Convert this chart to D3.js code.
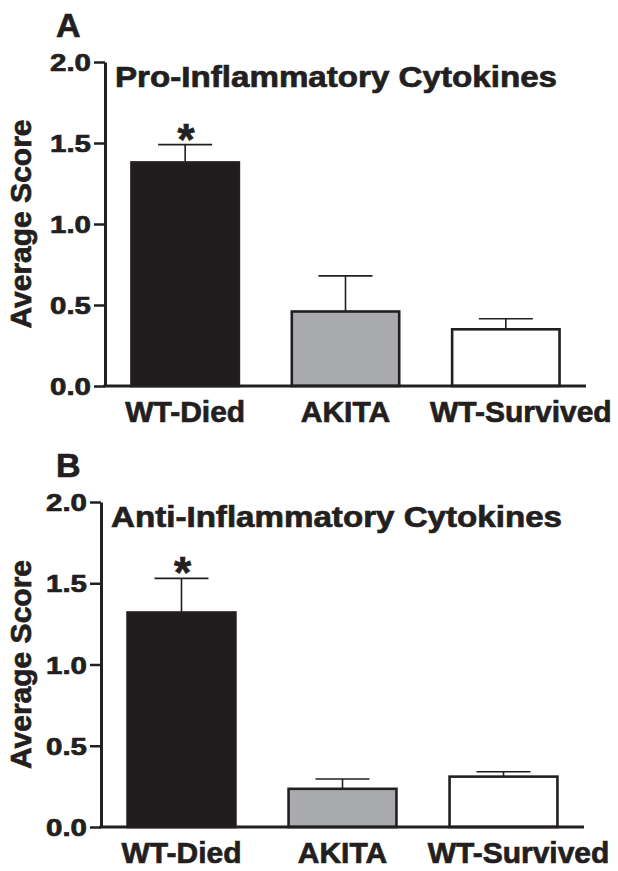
<!DOCTYPE html>
<html>
<head>
<meta charset="utf-8">
<script src="https://cdnjs.cloudflare.com/ajax/libs/d3/7.8.5/d3.min.js"></script>
<style>
  body { margin: 0; background: #fff; }
  svg { display: block; }
  text.bold { stroke: #231f20; stroke-width: 0.7px; paint-order: stroke; }
</style>
</head>
<body>
<svg class="cytoSVG" width="618" height="871"></svg>
<script>
const groups = ['WT-Died', 'AKITA', 'WT-Survived'];
const proMeans = [1.38, 0.46, 0.35];
const proErr = [0.11, 0.22, 0.065];
const antiMeans = [1.32, 0.235, 0.31];
const antiErr = [0.21, 0.06, 0.03];
const significant = [true, false, false];
const yTicks = [0.0, 0.5, 1.0, 1.5, 2.0];
const barFills = ['#1e1c1d', '#a9aaad', '#ffffff'];

const ink = '#231f20';
const font = "'Liberation Sans', Arial, sans-serif";

function drawPanel(svg, opts) {
  const g = svg.append('g').attr('class', 'panel');

  const x = d3.scaleBand()
    .domain(groups)
    .range([opts.left, opts.right])
    .paddingInner(0.33)
    .paddingOuter(0.165);

  const y = d3.scaleLinear()
    .domain([0, 2])
    .range([opts.bottom, opts.top]);

  const rows = groups.map((k, i) => ({
    group: k, mean: opts.means[i], err: opts.errs[i], fill: barFills[i], sig: significant[i]
  }));

  // bars
  g.selectAll('rect.bar')
    .data(rows)
    .enter()
    .append('rect')
    .attr('class', 'bar')
    .attr('x', d => x(d.group))
    .attr('y', d => y(d.mean))
    .attr('width', x.bandwidth())
    .attr('height', d => y(0) - y(d.mean))
    .style('fill', d => d.fill)
    .style('stroke', ink)
    .style('stroke-width', '2.6px');

  // upper error whiskers
  const err = g.selectAll('g.err')
    .data(rows)
    .enter()
    .append('g')
    .attr('class', 'err')
    .style('stroke', ink)
    .style('stroke-width', '1.6px');

  err.append('line')
    .attr('x1', d => x(d.group) + x.bandwidth() / 2)
    .attr('x2', d => x(d.group) + x.bandwidth() / 2)
    .attr('y1', d => y(d.mean))
    .attr('y2', d => y(d.mean + d.err));

  err.append('line')
    .attr('x1', d => x(d.group) + x.bandwidth() / 2 - 27)
    .attr('x2', d => x(d.group) + x.bandwidth() / 2 + 27)
    .attr('y1', d => y(d.mean + d.err))
    .attr('y2', d => y(d.mean + d.err));

  g.selectAll('text.star')
    .data(rows.filter(d => d.sig))
    .enter()
    .append('text')
    .attr('class', 'star bold')
    .text('*')
    .attr('x', d => x(d.group) + x.bandwidth() / 2 + 1)
    .attr('y', d => y(d.mean + d.err) + 10)
    .style('text-anchor', 'middle')
    .style('font-family', font)
    .style('font-weight', 700)
    .style('font-size', '44px')
    .style('fill', ink);

  // y axis
  const yAxis = g.append('g')
    .attr('transform', `translate(${opts.left},0)`)
    .call(d3.axisLeft(y).tickValues(yTicks).tickFormat(d3.format('.1f')).tickSize(11).tickSizeOuter(0).tickPadding(3));

  yAxis.select('.domain').style('stroke', ink).style('stroke-width', '3px');
  yAxis.selectAll('.tick line').style('stroke', ink).style('stroke-width', '2.5px');
  yAxis.selectAll('.tick text')
    .attr('class', 'bold')
    .attr('dy', '0.36em')
    .attr('textLength', 41)
    .attr('lengthAdjust', 'spacingAndGlyphs')
    .style('font-family', font)
    .style('font-weight', 700)
    .style('font-size', '24px')
    .style('fill', ink);

  // x axis
  const xAxis = g.append('g')
    .attr('transform', `translate(0,${opts.bottom})`)
    .call(d3.axisBottom(x).tickSize(0).tickSizeOuter(0));

  xAxis.select('.domain')
    .attr('d', `M${opts.left - 1.5},0H${opts.right}`)
    .style('stroke', ink)
    .style('stroke-width', '3px');
  xAxis.selectAll('.tick text')
    .attr('class', 'bold')
    .attr('y', 36)
    .attr('dy', 0)
    .attr('dx', (d, i) => i === 2 ? 15 : 0)
    .style('font-family', font)
    .style('font-weight', 700)
    .style('font-size', '30px')
    .style('fill', ink);

  g.append('text')
    .attr('class', 'bold')
    .text('Average Score')
    .attr('transform', `translate(31,${(opts.top + opts.bottom) / 2}) rotate(-90)`)
    .style('text-anchor', 'middle')
    .style('font-family', font)
    .style('font-weight', 700)
    .style('font-size', '30px')
    .style('fill', ink);

  g.append('text')
    .attr('class', 'bold')
    .text(opts.title)
    .attr('x', opts.titleX)
    .attr('y', opts.top + 25)
    .attr('textLength', opts.titleLen)
    .attr('lengthAdjust', 'spacingAndGlyphs')
    .style('font-family', font)
    .style('font-weight', 700)
    .style('font-size', '29px')
    .style('fill', ink);

  g.append('text')
    .attr('class', 'bold')
    .text(opts.letter)
    .attr('x', 56)
    .attr('y', opts.top - 25)
    .style('font-family', font)
    .style('font-weight', 700)
    .style('font-size', '34px')
    .style('fill', ink);
}

const svg = d3.select('svg.cytoSVG');

drawPanel(svg, {
  letter: 'A',
  title: 'Pro-Inflammatory Cytokines',
  titleX: 115,
  titleLen: 442,
  means: proMeans,
  errs: proErr,
  left: 105,
  right: 586,
  top: 62,
  bottom: 386
});

drawPanel(svg, {
  letter: 'B',
  title: 'Anti-Inflammatory Cytokines',
  titleX: 111,
  titleLen: 451,
  means: antiMeans,
  errs: antiErr,
  left: 101,
  right: 584,
  top: 502,
  bottom: 827
});
</script>
</body>
</html>
